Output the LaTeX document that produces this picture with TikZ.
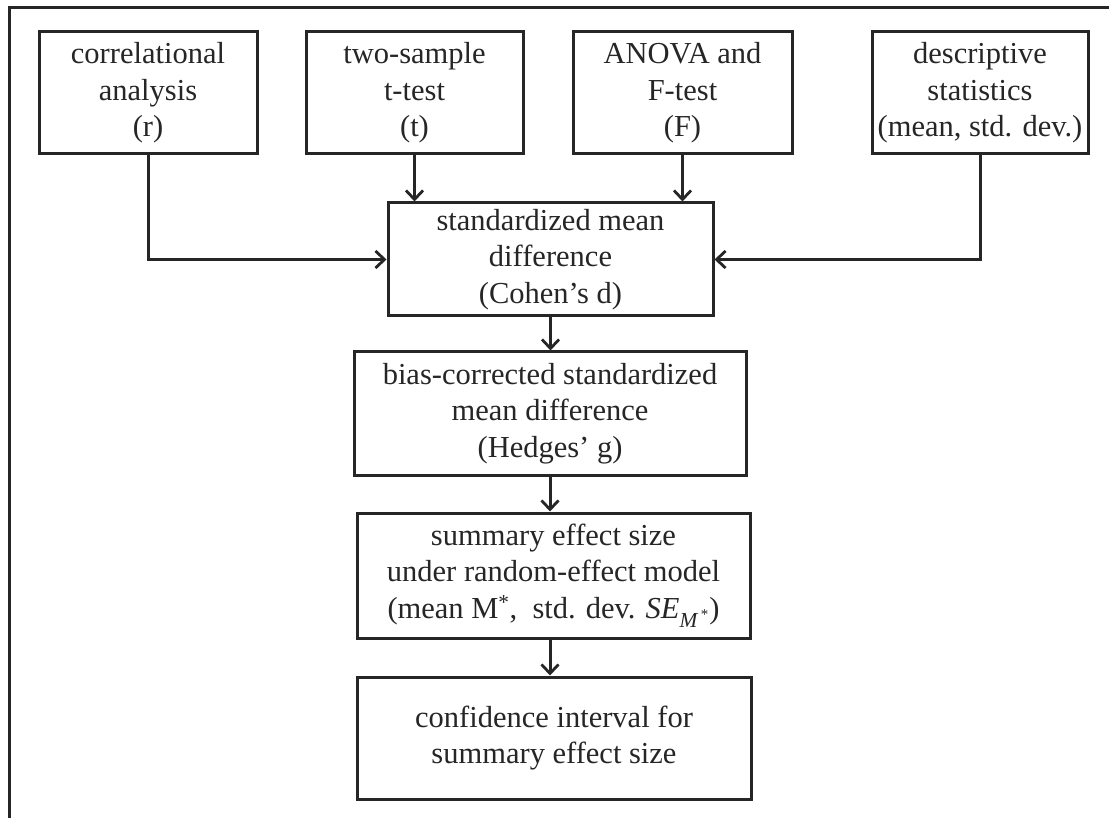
\documentclass[tikz,border=0pt]{standalone}
\usepackage{fontspec}
\setmainfont{Liberation Serif}
\usetikzlibrary{arrows.meta}
\begin{document}
\begin{tikzpicture}[x=1pt,y=-1pt,
  box/.style={draw=black!85, line width=3pt, align=center, inner sep=0pt,
    text=black!85, font=\fontsize{30.5}{36.5}\selectfont},
  link/.style={draw=black!85, line width=3pt,
    -{Straight Barb[length=9pt,width=17pt,line width=2.8pt]}}]
  \useasboundingbox (0,0) rectangle (1109,818);
  % frame
  \draw[black!85, line width=3pt] (9,818) -- (9,8) -- (1109,8);

  % inputs
  \node[box, minimum width=218pt, minimum height=122pt] (corr) at (148,93)
    {correlational\\analysis\\(r)};
  \node[box, minimum width=217pt, minimum height=122pt] (ttest) at (414.5,93)
    {two-sample\\t-test\\(t)};
  \node[box, minimum width=219pt, minimum height=122pt] (anova) at (682.5,93)
    {ANOVA and\\F-test\\(F)};
  \node[box, minimum width=216pt, minimum height=122pt] (desc) at (980,93)
    {descriptive\\statistics\\(mean, std. dev.)};

  % chain
  \node[box, minimum width=325pt, minimum height=113pt] (smd) at (550.5,259.5)
    {standardized mean\\difference\\(Cohen’s d)};
  \node[box, minimum width=392pt, minimum height=123pt] (hedges) at (550,413.5)
    {bias-corrected standardized\\mean difference\\(Hedges’ g)};
  \node[box, minimum width=393pt, minimum height=125pt] (summ) at (553.5,575.5)
    {summary effect size\\under random-effect model\\(mean M\textsuperscript{*},\ \ std. dev. \textit{SE}\textsubscript{\textit{M}\textsuperscript{\,*}})};
  \node[box, minimum width=394pt, minimum height=122pt] (ci) at (554,738)
    {confidence interval for\\summary effect size};

  % connectors
  \draw[link] (corr.south) |- (smd.west);
  \draw[link] (desc.south) |- (smd.east);
  \draw[link] (ttest.south) -- (ttest.south |- smd.north);
  \draw[link] (anova.south) -- (anova.south |- smd.north);
  \draw[link] (smd.south) -- (smd.south |- hedges.north);
  \draw[link] (hedges.south) -- (hedges.south |- summ.north);
  \draw[link] (hedges.south |- summ.south) -- (hedges.south |- ci.north);
\end{tikzpicture}
\end{document}
